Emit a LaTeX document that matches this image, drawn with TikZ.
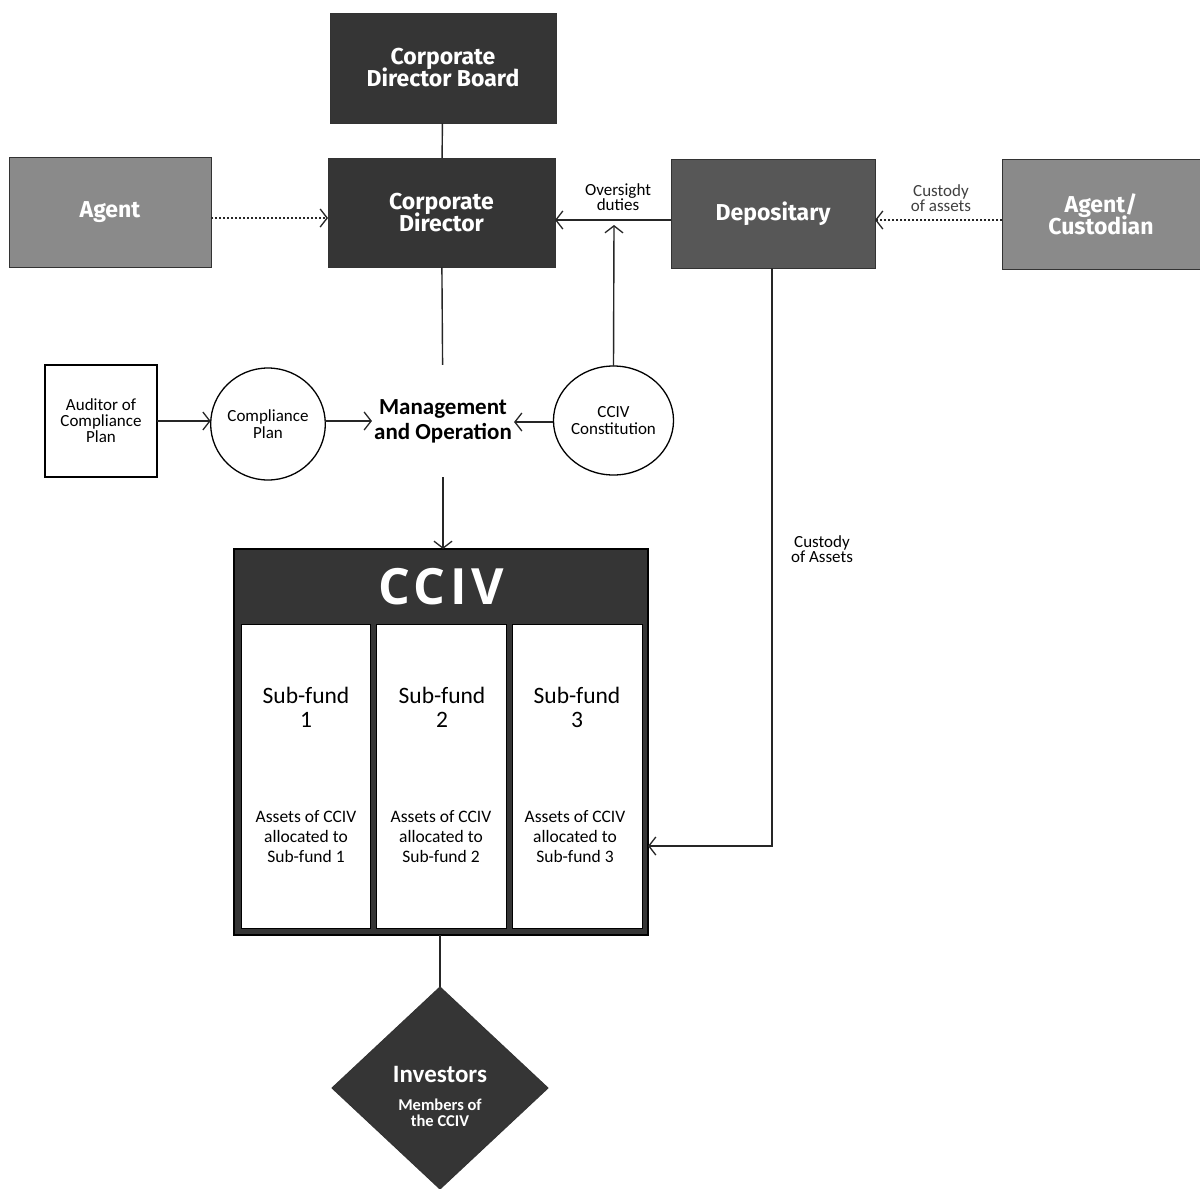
\documentclass[tikz,border=0pt]{standalone}
\usepackage{fontspec}
\setmainfont{Carlito}
\newfontfamily\fira{Fira Sans}
\newfontfamily\ccivfont[LetterSpace=9]{Open Sans}
\usetikzlibrary{arrows.meta,shapes.geometric}
\definecolor{darkfill}{HTML}{353535}
\definecolor{midfill}{HTML}{575757}
\definecolor{lightfill}{HTML}{8A8A8A}
\tikzset{
  box/.style={draw=black!80, line width=1pt, inner sep=0pt, outer sep=0pt, align=center,
    text=white, font=\fira\bfseries\fontsize{23}{25}\selectfont},
  circ/.style={ellipse, draw=black, line width=1.3pt, inner sep=0pt, outer sep=0pt, align=center,
    font=\fontsize{17}{17}\selectfont},
  arr/.style={-{Straight Barb[length=7pt,width=18pt,line width=1.3pt]}, line width=1.4pt, draw=black!85},
  dotarr/.style={arr, dash pattern=on 1.8pt off 2.2pt, line width=1.8pt},
  plain/.style={line width=1.4pt, draw=black!85},
  lbl/.style={align=center, font=\fontsize{17}{15}\selectfont, inner sep=0pt},
  sub/.style={align=center, font=\fontsize{23.5}{24}\selectfont, inner sep=0pt},
  assets/.style={align=center, font=\fontsize{17.5}{20}\selectfont, inner sep=0pt},
  col/.style={draw=black, line width=1pt, fill=white, inner sep=0pt, outer sep=0pt, minimum height=304pt}
}
\begin{document}
\begin{tikzpicture}[x=1pt,y=-1pt]
\path[use as bounding box, fill=white] (0,0) rectangle (1200,1189);

% top boxes
\node[box, fill=darkfill, minimum width=226pt, minimum height=110pt] (cdb) at (443,68) {Corporate\\[-3pt]Director Board};
\node[box, fill=darkfill, minimum width=227pt, minimum height=109pt] (cd) at (441.5,212.5) {Corporate\\[-3pt]Director};
\node[box, fill=lightfill, minimum width=202pt, minimum height=110pt] (agent) at (110,212) {Agent};
\node[box, fill=midfill, minimum width=204pt, minimum height=109pt] (dep) at (773,213.5) {Depositary};
\node[box, fill=lightfill, minimum width=198pt, minimum height=110pt] (cust) at (1101,214) {Agent/\\[-3pt]Custodian};

% middle row
\node[draw=black, line width=1.2pt, minimum width=112pt, minimum height=112pt, inner sep=0pt, outer sep=0pt,
      align=center, font=\fontsize{17}{16}\selectfont] (aud) at (101,421) {Auditor of\\Compliance\\Plan};
\node[circ, minimum width=110pt, minimum height=112pt] (comp) at (268,424) {Compliance\\Plan};
\node[circ, minimum width=112pt, minimum height=109pt] (const) at (613.5,420.5) {CCIV\\Constitution};
\node[align=center, font=\bfseries\fontsize{23}{25}\selectfont, inner xsep=2pt, inner ysep=0pt, minimum height=112pt] (mgmt) at (443,421) {Management\\and Operation};

% CCIV block
\node[draw=black, line width=1.5pt, fill=darkfill, minimum width=414pt, minimum height=386pt, inner sep=0pt, outer sep=0pt] (cciv) at (441,742) {};
\node[text=white, font=\ccivfont\bfseries\fontsize{50}{50}\selectfont, inner sep=0pt] (ccivt) at (441,587) {CCIV};
\node[col, minimum width=129pt] (sf1) at (305.5,776) {};
\node[col, minimum width=130pt] (sf2) at (441,776) {};
\node[col, minimum width=130pt] (sf3) at (577,776) {};
\node[sub] (s1) at (306,707) {Sub-fund\\1};
\node[sub] (s2) at (442,707) {Sub-fund\\2};
\node[sub] (s3) at (577,707) {Sub-fund\\3};
\node[assets] (a1) at (306,837) {Assets of CCIV\\allocated to\\Sub-fund 1};
\node[assets] (a2) at (441,837) {Assets of CCIV\\allocated to\\Sub-fund 2};
\node[assets] (a3) at (575,837) {Assets of CCIV\\allocated to\\Sub-fund 3};

% investors
\node[diamond, fill=darkfill, draw=black!80, line width=1pt, minimum width=216pt, minimum height=202pt, inner sep=0pt, outer sep=0pt] (inv) at (440,1088) {};
\node[text=white, font=\bfseries\fontsize{25}{26}\selectfont, inner sep=0pt] (invt) at (440,1074) {Investors};
\node[text=white, align=center, font=\bfseries\fontsize{16.5}{16}\selectfont, inner sep=0pt] (invs) at (440,1113) {Members of\\the CCIV};

% labels
\node[lbl] (ovl) at (618,197) {Oversight\\duties};
\node[lbl, text=black!75] (cal) at (941,198) {Custody\\of assets};
\node[lbl] (cal2) at (822,549) {Custody\\of Assets};

% coordinates
\coordinate (ovtip) at (614,225);
\coordinate (custin) at (cciv.east |- 0,846);

% connectors
\draw[plain] (cdb) -- (cd);
\draw[dotarr] (agent.east |- 0,218) -- (cd.west |- 0,218);
\draw[arr] (dep.west |- 0,220) -- (cd.east |- 0,220);
\draw[dotarr] (cust.west |- 0,220) -- (dep.east |- 0,220);
\draw[arr] (const.north) -- (ovtip);
\draw[plain] (cd) -- (mgmt);
\draw[arr] (aud) -- (comp.west |- aud);
\draw[arr] (comp.east |- 0,421) -- (mgmt.west |- 0,421);
\draw[arr] (const.west |- 0,422) -- (mgmt.east |- 0,422);
\draw[arr] (mgmt) -- (cciv.north -| mgmt);
\draw[arr] (dep.south -| 772,0) |- (custin);
\draw[plain] (cciv.south -| inv) -- (inv.north);
\end{tikzpicture}
\end{document}
